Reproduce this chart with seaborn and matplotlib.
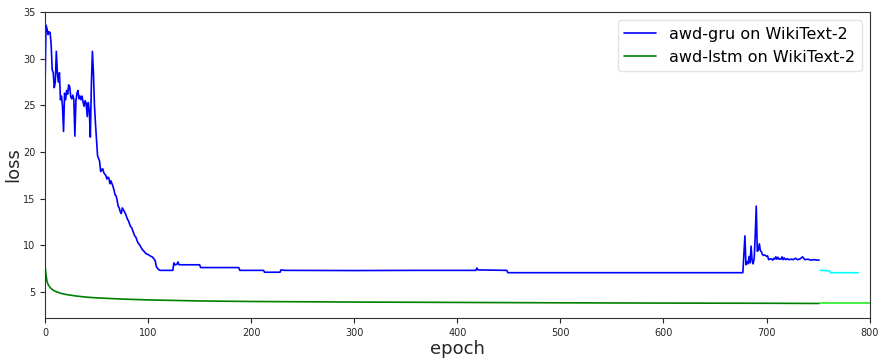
import numpy as np
import pandas as pd
import matplotlib
matplotlib.use("Agg")
import matplotlib.pyplot as plt
import seaborn as sns

# awd-gru training loss on WikiText-2 (epoch, loss)
gru_epoch = [0, 1, 2, 3, 4, 5, 6, 7, 8, 9, 10, 11, 12, 13, 14, 15, 16, 17, 18, 19,
             20, 21, 22, 23, 24, 25, 26, 27, 28, 29, 30, 31, 32, 33, 34, 35, 36, 37, 38, 39,
             40, 41, 42, 43, 44, 45, 46, 47, 48, 49, 50, 51, 52, 53, 54, 55, 56, 57, 58, 59,
             60, 61, 62, 63, 64, 65, 66, 67, 68, 69, 70, 71, 72, 73, 74, 75, 76, 77, 78, 79,
             80, 81, 82, 83, 84, 85, 86, 87, 88, 89, 90, 92, 94, 96, 98, 100, 102, 104, 106, 107,
             108, 110, 112, 124, 125, 126, 128, 129, 130, 150, 151, 188, 189, 212, 213, 228, 229, 233, 234, 300,
             360, 418, 419, 420, 448, 449, 677, 678, 679, 680, 681, 682, 683, 684, 685, 686, 687, 688, 689, 690,
             691, 692, 693, 694, 695, 696, 697, 698, 699, 700, 701, 702, 703, 704, 705, 706, 707, 708, 709, 710,
             711, 712, 713, 714, 715, 716, 717, 718, 719, 720, 722, 724, 726, 728, 730, 732, 735, 737, 740, 743,
             746, 749, 751]
gru_loss = [26.7, 33.6, 33.2, 32.6, 32.9, 32.8, 31.5, 28.8, 28.5, 26.9, 27.5, 30.8, 28.5, 27.5, 28.5, 25.6, 26.0, 24.9, 22.2, 26.3,
            25.6, 26.6, 26.2, 27.2, 27.0, 25.9, 25.7, 26.1, 25.6, 21.7, 25.5, 26.3, 26.6, 25.7, 26.0, 25.6, 26.0, 25.3, 24.9, 25.5,
            25.2, 23.8, 25.3, 24.4, 21.6, 27.2, 30.8, 28.5, 25.0, 23.0, 21.3, 19.6, 19.3, 19.0, 17.9, 18.1, 18.2, 17.8, 17.6, 17.5,
            17.1, 17.3, 17.2, 16.6, 16.9, 16.6, 16.3, 15.9, 15.4, 15.3, 14.8, 14.2, 14.0, 13.6, 13.4, 14.0, 13.8, 13.6, 13.4, 13.1,
            12.8, 12.6, 12.3, 12.0, 11.9, 11.6, 11.3, 11.0, 10.9, 10.6, 10.3, 10.0, 9.6, 9.35, 9.1, 9.0, 8.85, 8.75, 8.5, 8.3,
            7.7, 7.4, 7.3, 7.3, 8.1, 7.9, 7.95, 8.2, 7.9, 7.9, 7.6, 7.6, 7.3, 7.3, 7.1, 7.1, 7.35, 7.3, 7.3, 7.28,
            7.3, 7.3, 7.55, 7.35, 7.3, 7.05, 7.05, 9.0, 11.0, 7.9, 8.2, 8.0, 8.8, 8.1, 9.9, 8.3, 8.0, 8.6, 11.0, 14.2,
            9.35, 9.5, 10.15, 9.4, 9.3, 9.0, 8.9, 8.95, 8.9, 8.8, 8.85, 8.45, 8.5, 8.55, 8.5, 8.4, 8.6, 8.5, 8.75, 8.5,
            8.7, 8.5, 8.55, 8.5, 8.75, 8.45, 8.65, 8.5, 8.45, 8.55, 8.45, 8.5, 8.45, 8.6, 8.45, 8.5, 8.75, 8.45, 8.5, 8.4,
            8.45, 8.4, 8.4]

# continuation of the gru run
gru2_epoch = [752, 761, 762, 789]
gru2_loss = [7.3, 7.25, 7.05, 7.05]

# awd-lstm training loss on WikiText-2
lstm_epoch = [0, 1, 2, 3, 5, 7, 10, 15, 20, 30, 40, 50, 75, 100, 150, 200, 300, 400, 500, 600, 700, 751]
lstm_loss = [7.9, 6.8, 6.1, 5.8, 5.45, 5.25, 5.05, 4.85, 4.72, 4.55, 4.43, 4.35, 4.22, 4.13, 4.02, 3.96, 3.9, 3.86, 3.82, 3.79, 3.77, 3.75]

# continuation of the lstm run
lstm2_epoch = [752, 800]
lstm2_loss = [3.82, 3.82]

sns.set_style("ticks")
plt.rcParams["font.family"] = ["DejaVu Sans"]

fig, ax = plt.subplots(figsize=(8.82, 3.58), dpi=100)
fig.subplots_adjust(left=0.051, right=0.986, top=0.966, bottom=0.112)

series = [
    (gru_epoch, gru_loss, "#0000ff", "awd-gru on WikiText-2"),
    (lstm_epoch, lstm_loss, "#008000", "awd-lstm on WikiText-2"),
    (gru2_epoch, gru2_loss, "#00ffff", None),
    (lstm2_epoch, lstm2_loss, "#22ee22", None),
]
for xs, ys, col, lab in series:
    df = pd.DataFrame({"epoch": xs, "loss": ys})
    sns.lineplot(data=df, x="epoch", y="loss", ax=ax, color=col, lw=1.2,
                 estimator=None, sort=False, label=lab)

ax.set_xlim(0, 800)
ax.set_ylim(2.2, 35)
ax.set_xticks(np.arange(0, 801, 100))
ax.set_yticks(np.arange(5, 36, 5))
ax.tick_params(labelsize=7, length=3.5, width=0.8)
for s in ax.spines.values():
    s.set_color("#333333")
    s.set_linewidth(0.8)
ax.set_xlabel("epoch", fontsize=13, labelpad=2)
ax.set_ylabel("loss", fontsize=13)
ax.yaxis.set_label_coords(-0.028, 0.5)

leg = ax.legend(loc="upper right", fontsize=11.5, frameon=True, fancybox=True,
                borderaxespad=0.5, handlelength=2.0)
leg.get_frame().set_edgecolor("#dddddd")
for t in leg.get_texts():
    t.set_color("black")

fig.savefig("out.png", dpi=100)
